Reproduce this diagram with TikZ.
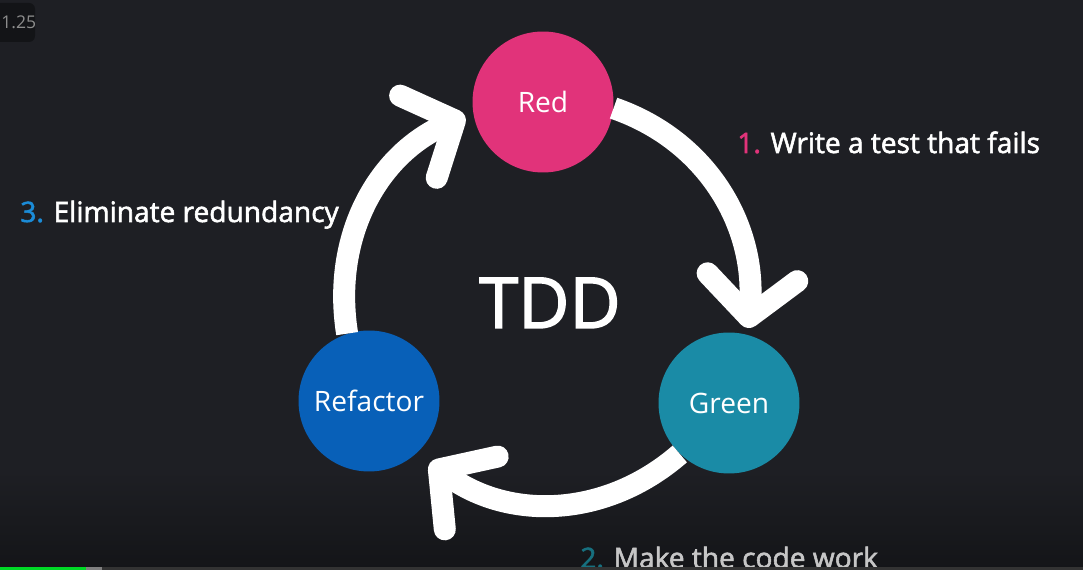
\documentclass[tikz,border=0pt]{standalone}
\usepackage{fontspec}
\setmainfont{Open Sans}
\newfontfamily\medfont[FakeBold=2]{Open Sans}
\usetikzlibrary{arrows.meta}
\definecolor{bgdark}{HTML}{1E1F24}
\definecolor{bgdeep}{HTML}{141518}
\definecolor{tddred}{HTML}{E1337A}
\definecolor{tddgreen}{HTML}{1A8BA6}
\definecolor{tddblue}{HTML}{0860B8}
\definecolor{stepthree}{HTML}{1B8CD8}
\definecolor{steptwo}{HTML}{17707F}
\definecolor{dimtext}{HTML}{C6C6C6}
\begin{document}
\begin{tikzpicture}[
  x=0.02cm, y=-0.02cm,
  phase/.style={circle, inner sep=0pt, minimum size=2.82cm, text=white,
    font=\fontsize{16}{19}\selectfont},
  cycle/.style={white, line width=0.44cm,
    -{Straight Barb[length=0.8cm, width=1.8cm, round]}},
  lbl/.style={anchor=base west, inner sep=0pt, text=white,
    font=\medfont\fontsize{16}{19}\selectfont}
]

\useasboundingbox (0,0) rectangle (1083,570);
\fill [bgdark] (0,0) rectangle (1083,570);
\shade [top color=bgdark, bottom color=bgdeep] (0,470) rectangle (1083,570);

% player speed badge
\fill [black!35!bgdark, rounded corners=0.12cm] (-20,3) rectangle (35,42);
\node [anchor=base west, inner sep=0pt, text=black!45!white,
  font=\fontsize{10}{12}\selectfont] (speed) at (1,29) {1.25};

\node [phase, fill=tddred] (red) at (543,102) {Red};
\node [phase, fill=tddgreen] (green) at (729,403) {Green};
\node [phase, fill=tddblue] (refactor) at (369,401) {Refactor};

\draw [cycle] (red.-5) to[out=-19, in=85] ([shift={(19,-75)}]green.center);
\draw [cycle] (green.-134) to[out=-139, in=-36] ([shift={(61,62)}]refactor.center);
\draw [cycle] (refactor.108) to[out=99, in=-156] ([shift={(-78,14)}]red.center);

\node [anchor=base, inner sep=0pt, text=white,
  font=\medfont\fontsize{40}{48}\selectfont] (tdd) at (550,328) {TDD};

\node [lbl] (failstep) at (737,153) {\textcolor{tddred}{1.} Write a test that fails};
\node [lbl] (workstep) at (580,568) {\textcolor{steptwo}{2.} \textcolor{dimtext}{Make the code work}};
\node [lbl] (cleanstep) at (20,222) {\textcolor{stepthree}{3.} Eliminate redundancy};

% progress bar
\fill [green!70!teal] (0,567) rectangle (86,570);
\fill [gray] (86,567) rectangle (102,570);
\fill [black!60!gray] (102,567) rectangle (1083,570);

\end{tikzpicture}
\end{document}
